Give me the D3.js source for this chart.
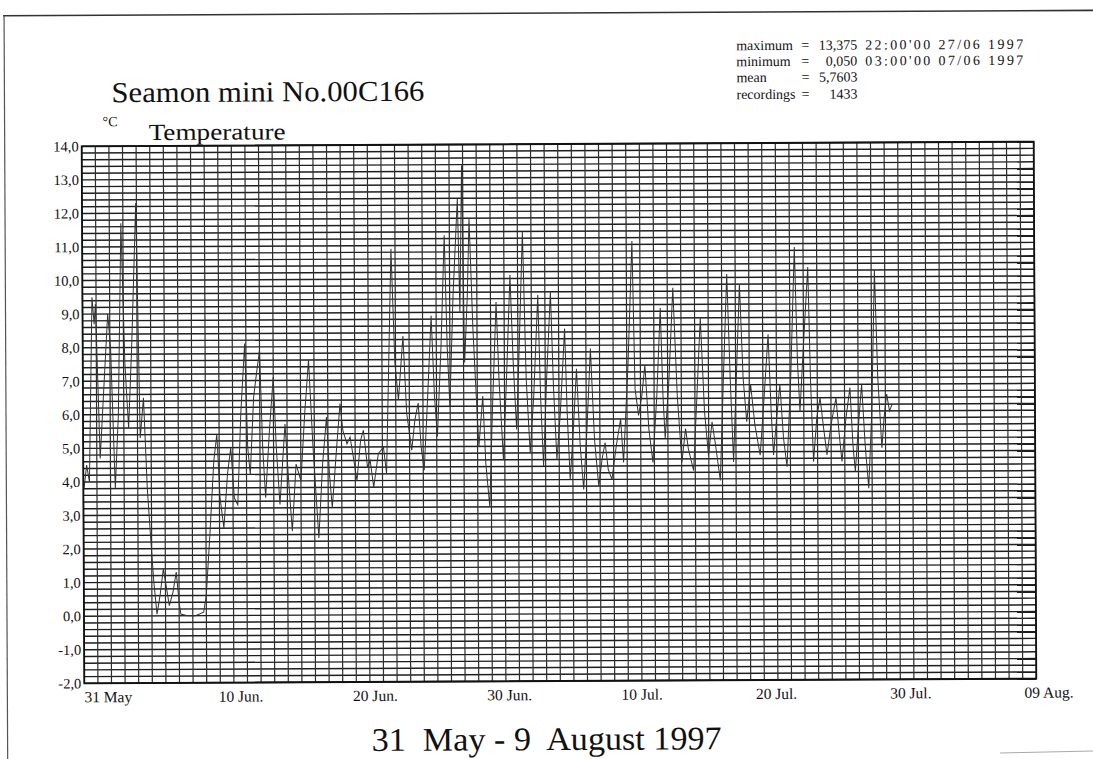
<!DOCTYPE html>
<html>
<head>
<meta charset="utf-8">
<script src="https://cdn.jsdelivr.net/npm/d3@7"></script>
<style>
  html, body { margin: 0; padding: 0; background: #fff; }
  svg { display: block; }
  text { font-family: "Liberation Serif", "Times New Roman", serif; fill: #111; white-space: pre; }
</style>
</head>
<body>
<svg id="chart" width="1093" height="759"></svg>
<script>
// ---------------- DATA ----------------
// time in days since 31 May 1997 00:00, temperature in °C (turning points of the trace)
const dayOffsets = [
  0.05,0.25,0.45,0.7,0.85,0.95,1.25,1.5,1.85,2.05,2.35,2.6,2.85,3.1,3.35,3.6,3.95,4.2,4.45,4.7,
  4.95,5.15,5.37,5.6,5.85,6.05,6.28,6.55,6.8,7.0,7.125,7.6,8.2,8.8,9.0,9.3,9.6,9.83,10.05,10.32,
  10.6,10.85,11.1,11.35,11.6,11.91,12.1,12.28,12.55,12.8,13.0,13.2,13.4,13.7,14.0,14.2,14.45,14.7,14.85,15.1,
  15.35,15.65,16.0,16.3,16.6,16.9,17.3,17.6,17.9,18.1,18.3,18.6,18.9,19.1,19.4,19.63,19.9,20.12,20.4,20.61,
  20.9,21.1,21.35,21.7,22.08,22.3,22.7,22.95,23.2,23.55,23.8,24.16,24.4,24.65,24.85,25.07,25.35,25.63,25.85,26.05,
  26.35,26.62,26.8,26.98,27.25,27.6,27.75,27.92,28.08,28.3,28.45,28.7,28.9,29.1,29.4,29.6,29.88,30.1,30.41,30.6,
  30.9,31.15,31.44,31.65,31.88,32.1,32.37,32.6,32.87,33.15,33.48,33.65,33.85,34.1,34.41,34.6,34.83,35.1,35.44,35.6,
  35.8,36.05,36.3,36.55,36.79,37.05,37.33,37.6,37.9,38.15,38.38,38.6,38.87,39.2,39.53,39.73,40.1,40.42,40.6,40.85,
  41.1,41.33,41.6,41.89,42.2,42.48,42.65,42.8,43.1,43.41,43.7,44.02,44.3,44.5,44.88,45.15,45.42,45.7,45.98,46.25,
  46.5,46.84,47.1,47.38,47.6,47.82,48.05,48.31,48.55,48.8,49.1,49.4,49.78,50.1,50.4,50.6,50.76,51.0,51.25,51.5,
  51.75,52.05,52.36,52.55,52.72,53.0,53.34,53.5,53.7,53.95,54.2,54.45,54.69,55.0,55.37,55.6,55.79,56.1,56.4,56.6,
  56.77,57.0,57.26,57.5,57.75,58.0,58.24,58.45,58.73,58.9,59.1,59.3,59.5
];
const temperatures = [
  3.8,4.5,4.0,9.5,8.7,9.3,4.7,6.5,9.0,8.0,3.8,6.0,11.7,7.5,5.6,8.0,12.3,5.3,6.5,3.8,
  2.2,1.0,0.05,0.6,1.4,0.9,0.3,0.7,1.3,0.4,0.05,0.0,0.0,0.1,0.6,2.5,4.6,5.4,3.5,2.6,
  4.2,5.0,3.5,3.3,6.0,8.1,5.0,4.2,6.5,7.3,7.9,5.0,3.5,5.5,7.1,5.0,3.3,4.8,5.7,4.0,
  2.5,4.5,4.0,6.0,7.6,5.0,2.3,4.5,5.9,4.2,3.2,4.8,6.3,5.5,5.1,5.3,4.6,4.0,5.2,5.5,
  4.4,4.6,3.8,4.8,5.0,4.2,10.9,7.5,6.4,8.3,6.0,4.9,5.8,6.3,5.0,4.3,6.5,8.9,6.5,5.3,
  8.0,11.3,8.0,6.2,9.5,12.4,9.0,13.375,7.5,9.5,11.8,8.5,6.7,5.0,6.5,4.5,3.2,6.0,9.3,7.0,
  4.6,7.0,10.1,7.5,5.5,8.0,11.4,7.0,4.8,6.5,9.5,6.5,4.4,7.0,9.6,6.8,4.6,6.0,8.5,6.0,
  4.0,5.5,7.3,5.0,3.7,5.5,7.9,5.2,3.8,4.6,5.1,4.3,4.0,5.0,5.8,4.5,7.5,11.1,6.7,5.9,
  6.5,7.4,5.5,4.5,6.5,9.1,6.5,5.2,7.0,9.7,6.5,4.5,5.5,4.9,4.25,6.5,8.8,6.0,4.7,5.7,
  5.0,3.95,7.0,10.1,7.0,4.5,7.0,9.8,7.0,5.7,6.8,5.6,4.7,6.5,8.3,6.0,4.7,5.8,6.8,5.2,
  4.35,7.0,10.9,7.5,6.0,8.0,10.3,7.0,4.5,5.8,6.4,5.5,4.7,5.6,6.4,5.3,4.5,5.8,6.7,5.0,
  4.2,5.5,6.8,5.0,3.7,6.0,10.2,7.0,4.9,5.8,6.5,6.0,6.2
];
const xTickDays   = [0, 10, 20, 30, 40, 50, 60, 70];
const xTickLabels = ["31 May", "10 Jun.", "20 Jun.", "30 Jun.", "10 Jul.", "20 Jul.", "30 Jul.", "09 Aug."];
const yTickValues = [-2,-1,0,1,2,3,4,5,6,7,8,9,10,11,12,13,14];
const statLabels  = ["maximum", "minimum", "mean", "recordings"];
const statValues  = ["13,375", "0,050", "5,7603", "1433"];
const statStamps  = ["22:00'00 27/06 1997", "03:00'00 07/06 1997", "", ""];
const titleText   = "Seamon mini No.00C166";
const unitText    = "°C";
const seriesName  = "Temperature";
const periodText  = "31  May - 9  August 1997";

// ---------------- CHART ----------------
const svg = d3.select("#chart");
svg.append("rect").attr("width", 1093).attr("height", 759).attr("fill", "#fff");

// whole scanned page is very slightly rotated
const page = svg.append("g").attr("transform", "rotate(-0.28 559 413)");

const L = 83, R = 1035, T = 144, B = 681;
const x = d3.scaleLinear().domain([0, 70]).range([L, R]);
const y = d3.scaleLinear().domain([-2, 14]).range([B, T]);

// page frame
page.append("line").attr("x1", 5).attr("x2", 1100).attr("y1", 13).attr("y2", 13)
  .attr("stroke", "#333").attr("stroke-width", 1.6);
page.append("line").attr("x1", 6).attr("x2", 6).attr("y1", 13).attr("y2", 770)
  .attr("stroke", "#555").attr("stroke-width", 1.2);
svg.append("line").attr("x1", 1000).attr("x2", 1093).attr("y1", 753).attr("y2", 751)
  .attr("stroke", "#aaa").attr("stroke-width", 1);

// grid
const grid = page.append("g");
grid.selectAll("line.h").data(d3.range(0, 81).map(i => -2 + i * 0.2)).join("line")
  .attr("class", "h")
  .attr("x1", L).attr("x2", R)
  .attr("y1", d => y(d)).attr("y2", d => y(d))
  .attr("stroke", "#1e1e1e").attr("stroke-width", 1.45);
grid.selectAll("line.v").data(d3.range(0, 71)).join("line")
  .attr("class", "v")
  .attr("x1", d => x(d)).attr("x2", d => x(d))
  .attr("y1", T).attr("y2", B)
  .attr("stroke", "#2e2e2e").attr("stroke-width", 1.2);
page.append("rect").attr("x", L).attr("y", T).attr("width", R - L).attr("height", B - T)
  .attr("fill", "none").attr("stroke", "#111").attr("stroke-width", 1.8);

// data trace
const pts = dayOffsets.map((d, i) => [d, temperatures[i]]);
page.append("path").datum(pts)
  .attr("fill", "none").attr("stroke", "#333").attr("stroke-width", 1)
  .attr("d", d3.line().x(d => x(d[0])).y(d => y(d[1])));

// y labels
page.append("g").selectAll("text").data(yTickValues).join("text")
  .attr("x", 80).attr("y", d => y(d)).attr("dy", "0.35em")
  .attr("text-anchor", "end").attr("font-size", 14.5)
  .text(d => d.toFixed(1).replace(".", ","));

// x labels
page.append("g").selectAll("text").data(xTickDays).join("text")
  .attr("x", d => x(d) - d * 0.17).attr("y", 700)
  .attr("text-anchor", "start").attr("font-size", 15.5)
  .text((d, i) => xTickLabels[i]);

// titles
page.append("text").attr("x", 113).attr("y", 100).attr("font-size", 29)
  .attr("textLength", 313).attr("lengthAdjust", "spacingAndGlyphs").text(titleText);
page.append("text").attr("x", 104).attr("y", 124).attr("font-size", 14).text(unitText);
page.append("text").attr("x", 150).attr("y", 138).attr("font-size", 23)
  .attr("textLength", 137).attr("lengthAdjust", "spacingAndGlyphs").text(seriesName);
page.append("text").attr("x", 370).attr("y", 750)
  .attr("font-size", 33).attr("textLength", 350).attr("lengthAdjust", "spacingAndGlyphs").text(periodText);

// statistics block
const rowsY = [51, 67, 83, 100];
const st = page.append("g").attr("font-size", 14);
statLabels.forEach((lab, i) => {
  st.append("text").attr("x", 738).attr("y", rowsY[i]).text(lab);
  st.append("text").attr("x", 803).attr("y", rowsY[i]).text("=");
  st.append("text").attr("x", 859).attr("y", rowsY[i]).attr("text-anchor", "end").text(statValues[i]);
  if (statStamps[i]) {
    st.append("text").attr("x", 867).attr("y", rowsY[i])
      .attr("textLength", 158).attr("lengthAdjust", "spacing").text(statStamps[i]);
  }
});
</script>
</body>
</html>
